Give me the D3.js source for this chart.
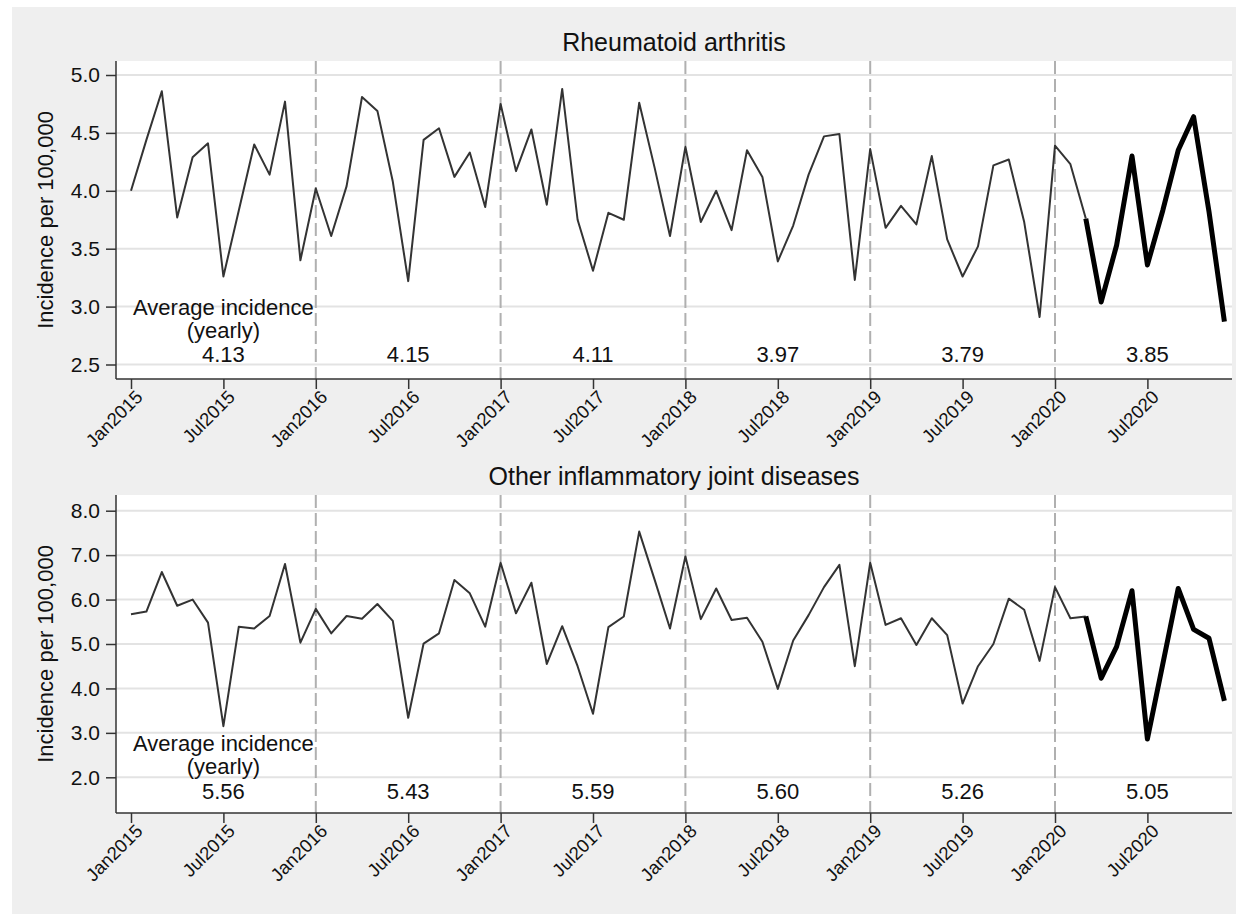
<!DOCTYPE html>
<html>
<head>
<meta charset="utf-8">
<script src="https://cdn.jsdelivr.net/npm/d3@7"></script>
<style>
  body { margin: 0; background: #fff; }
  text { font-family: Arial, "Liberation Sans", sans-serif; fill: #111; }
</style>
</head>
<body>
<div id="chart"></div>
<script>
// monthly incidence per 100,000, Jan2015 .. Dec2020
const raValues = [
    4.00, 4.44, 4.86, 3.77, 4.29, 4.41, 3.26, 3.83, 4.40, 4.14, 4.77, 3.40,
    4.02, 3.61, 4.04, 4.81, 4.69, 4.08, 3.22, 4.44, 4.54, 4.12, 4.33, 3.86,
    4.75, 4.17, 4.53, 3.88, 4.88, 3.75, 3.31, 3.81, 3.75, 4.76, 4.20, 3.61,
    4.38, 3.73, 4.00, 3.66, 4.35, 4.12, 3.39, 3.70, 4.14, 4.47, 4.49, 3.23,
    4.36, 3.68, 3.87, 3.71, 4.30, 3.58, 3.26, 3.52, 4.22, 4.27, 3.73, 2.91,
    4.39, 4.23, 3.76, 3.04, 3.53, 4.30, 3.36, 3.83, 4.35, 4.64, 3.82, 2.87
];
const oijdValues = [
    5.67, 5.73, 6.62, 5.86, 6.00, 5.48, 3.15, 5.39, 5.35, 5.63, 6.80, 5.03,
    5.79, 5.24, 5.63, 5.57, 5.90, 5.52, 3.34, 5.01, 5.24, 6.44, 6.14, 5.39,
    6.83, 5.69, 6.38, 4.55, 5.40, 4.50, 3.43, 5.38, 5.62, 7.53, 6.45, 5.35,
    6.97, 5.56, 6.25, 5.54, 5.59, 5.05, 3.99, 5.08, 5.65, 6.28, 6.78, 4.50,
    6.83, 5.43, 5.58, 4.98, 5.58, 5.20, 3.66, 4.50, 5.00, 6.02, 5.77, 4.62,
    6.28, 5.58, 5.62, 4.23, 4.94, 6.20, 2.86, 4.55, 6.25, 5.33, 5.13, 3.72
];
const raAverages = ["4.13", "4.15", "4.11", "3.97", "3.79", "3.85"];
const oijdAverages = ["5.56", "5.43", "5.59", "5.60", "5.26", "5.05"];

const xTickMonths = [0, 6, 12, 18, 24, 30, 36, 42, 48, 54, 60, 66];
const xTickLabels = ["Jan2015", "Jul2015", "Jan2016", "Jul2016", "Jan2017", "Jul2017",
    "Jan2018", "Jul2018", "Jan2019", "Jul2019", "Jan2020", "Jul2020"];
const yearStartMonths = [12, 24, 36, 48, 60];
const yearMidMonths = [6, 18, 30, 42, 54, 66];
const covidStart = 62; // Mar2020, drawn bold from here

const raTicks = [2.5, 3.0, 3.5, 4.0, 4.5, 5.0];
const oijdTicks = [2, 3, 4, 5, 6, 7, 8];

const width = 1236, height = 914;
const plotLeft = 116, plotRight = 1232;

const svg = d3.select("#chart")
    .append("svg")
    .attr("width", width)
    .attr("height", height);

svg.append("rect")
    .attr("x", 12).attr("y", 7)
    .attr("width", width - 12).attr("height", height - 7)
    .attr("fill", "#efefef");

const x = d3.scaleLinear()
    .domain([0, 71])
    .range([131, 1224.4]);

const panels = [
    {
        title: "Rheumatoid arthritis",
        values: raValues, averages: raAverages, ticks: raTicks,
        top: 61, bottom: 379,
        y: d3.scaleLinear().domain([2.5, 5.0]).range([364.5, 75]),
        textOffsets: [-64, -41, -17]
    },
    {
        title: "Other inflammatory joint diseases",
        values: oijdValues, averages: oijdAverages, ticks: oijdTicks,
        top: 495, bottom: 813,
        y: d3.scaleLinear().domain([2, 8]).range([777.3, 510.7]),
        textOffsets: [-62, -39, -14]
    }
];

panels.forEach(function (p) {
    const g = svg.append("g");

    g.append("rect")
        .attr("x", plotLeft).attr("y", p.top)
        .attr("width", plotRight - plotLeft).attr("height", p.bottom - p.top)
        .attr("fill", "#fff");

    g.append("text")
        .attr("x", (plotLeft + plotRight) / 2)
        .attr("y", p.top - 10)
        .attr("text-anchor", "middle")
        .attr("font-size", 25)
        .text(p.title);

    // horizontal grid
    g.selectAll(".grid")
        .data(p.ticks)
        .enter().append("line")
        .attr("x1", plotLeft).attr("x2", plotRight)
        .attr("y1", d => p.y(d)).attr("y2", d => p.y(d))
        .attr("stroke", "#e3e3e3")
        .attr("stroke-width", 2);

    // year separators
    g.selectAll(".yearline")
        .data(yearStartMonths)
        .enter().append("line")
        .attr("x1", d => x(d)).attr("x2", d => x(d))
        .attr("y1", p.top).attr("y2", p.bottom)
        .attr("stroke", "#b0b0b0")
        .attr("stroke-width", 2)
        .attr("stroke-dasharray", "13,5");

    const line = d3.line()
        .x((d, i) => x(i))
        .y(d => p.y(d));

    g.append("path")
        .datum(p.values.slice(0, covidStart + 1))
        .attr("fill", "none")
        .attr("stroke", "#333")
        .attr("stroke-width", 2)
        .attr("stroke-linejoin", "round")
        .attr("d", line);

    const boldLine = d3.line()
        .x((d, i) => x(i + covidStart))
        .y(d => p.y(d));

    g.append("path")
        .datum(p.values.slice(covidStart))
        .attr("fill", "none")
        .attr("stroke", "#000")
        .attr("stroke-width", 5)
        .attr("stroke-linejoin", "round")
        .attr("d", boldLine);

    // yearly averages
    g.append("text")
        .attr("x", x(yearMidMonths[0]))
        .attr("y", p.bottom + p.textOffsets[0])
        .attr("text-anchor", "middle")
        .attr("font-size", 22)
        .text("Average incidence");
    g.append("text")
        .attr("x", x(yearMidMonths[0]))
        .attr("y", p.bottom + p.textOffsets[1])
        .attr("text-anchor", "middle")
        .attr("font-size", 22)
        .text("(yearly)");
    g.selectAll(".avg")
        .data(p.averages)
        .enter().append("text")
        .attr("x", (d, i) => x(yearMidMonths[i]))
        .attr("y", p.bottom + p.textOffsets[2])
        .attr("text-anchor", "middle")
        .attr("font-size", 22)
        .text(d => d);

    // axes
    const yAxis = g.append("g")
        .attr("transform", "translate(" + plotLeft + ",0)")
        .call(d3.axisLeft(p.y).tickValues(p.ticks).tickFormat(d3.format(".1f"))
            .tickSize(10).tickPadding(6).tickSizeOuter(0));
    yAxis.select(".domain").remove();
    yAxis.selectAll("line").attr("stroke", "#333").attr("stroke-width", 1.5);
    yAxis.selectAll("text").attr("font-size", 21).attr("font-family", null).attr("fill", "#111");

    const xAxis = g.append("g")
        .attr("transform", "translate(0," + p.bottom + ")")
        .call(d3.axisBottom(x).tickValues(xTickMonths)
            .tickFormat((d, i) => xTickLabels[i])
            .tickSize(10).tickSizeOuter(0));
    xAxis.select(".domain").remove();
    xAxis.selectAll("line").attr("stroke", "#333").attr("stroke-width", 1.5);
    xAxis.selectAll("text")
        .attr("font-size", 18.5)
        .attr("font-family", null)
        .attr("fill", "#111")
        .attr("text-anchor", "end")
        .attr("dy", null)
        .attr("transform", "translate(3,10) rotate(-45)");

    g.append("line")
        .attr("x1", plotLeft).attr("x2", plotLeft)
        .attr("y1", p.top).attr("y2", p.bottom)
        .attr("stroke", "#333").attr("stroke-width", 1.5);
    g.append("line")
        .attr("x1", plotLeft).attr("x2", plotRight)
        .attr("y1", p.bottom).attr("y2", p.bottom)
        .attr("stroke", "#333").attr("stroke-width", 1.5);

    g.append("text")
        .attr("transform", "translate(53," + (p.top + p.bottom) / 2 + ") rotate(-90)")
        .attr("text-anchor", "middle")
        .attr("font-size", 22)
        .text("Incidence per 100,000");
});
</script>
</body>
</html>
